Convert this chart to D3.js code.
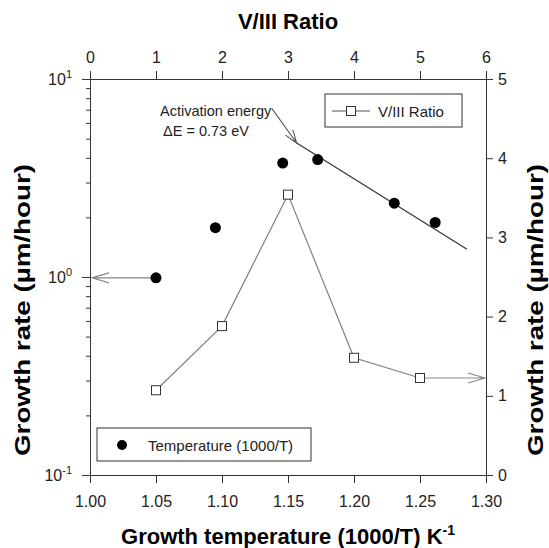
<!DOCTYPE html>
<html>
<head>
<meta charset="utf-8">
<script src="https://d3js.org/d3.v7.min.js"></script>
<style>
  body { margin: 0; background: #fff; }
  text { font-family: "Liberation Sans", Arial, sans-serif; }
</style>
</head>
<body>
<div id="chart"></div>
<script>
// growth temperature (1000/T) vs growth rate, left log axis
var tempX = [1.05, 1.095, 1.146, 1.1725, 1.2305, 1.2615];
var tempRate = [0.99, 1.775, 3.76, 3.92, 2.36, 1.885];

// V/III ratio (top axis) vs growth rate (right axis)
var ratioX = [1, 2, 3, 4, 5];
var ratioRate = [1.07, 1.88, 3.54, 1.48, 1.225];

// Arrhenius fit line end points
var fitX = [1.1566, 1.2856];
var fitRate = [4.75, 1.38];

// tick labels
var bottomTicks = [1.00, 1.05, 1.10, 1.15, 1.20, 1.25, 1.30];
var topTicks = [0, 1, 2, 3, 4, 5, 6];
var rightTicks = [0, 1, 2, 3, 4, 5];
var logMajor = [0.1, 1, 10];
var logExp = ["-1", "0", "1"];

function growth_chart(){

// set the dimensions and margins of the graph
var margin = {top: 79, right: 63, bottom: 73, left: 90},
    width = 396,
    height = 396;

var svg = d3.select("#chart")
  .append("svg")
    .attr("width", 549)
    .attr("height", 548)
  .append("g")
    .attr("transform", "translate(" + margin.left + "," + margin.top + ")");

var x = d3.scaleLinear().domain([1.0, 1.3]).range([0, width]);
var xTop = d3.scaleLinear().domain([0, 6]).range([0, width]);
var y = d3.scaleLog().domain([0.1, 10]).range([height, 0]);
var yRight = d3.scaleLinear().domain([0, 5]).range([height, 0]);

var axisColor = "#333";

// bottom axis
svg.append("g")
  .attr("transform", "translate(0," + height + ")")
  .call(d3.axisBottom(x).tickValues(bottomTicks).tickFormat(d3.format(".2f"))
    .tickSize(8).tickSizeOuter(0).tickPadding(13));

// top axis
svg.append("g")
  .call(d3.axisTop(xTop).tickValues(topTicks).tickFormat(d3.format("d"))
    .tickSize(8).tickSizeOuter(0).tickPadding(8));

// right axis
svg.append("g")
  .attr("transform", "translate(" + width + ",0)")
  .call(d3.axisRight(yRight).tickValues(rightTicks).tickFormat(d3.format("d"))
    .tickSize(7).tickSizeOuter(0).tickPadding(5));

// left log axis, minor ticks first
var minor = [];
[0.1, 1].forEach(function(d){ for (var k = 2; k < 10; k++) minor.push(d * k); });
svg.append("g")
  .call(d3.axisLeft(y).tickValues(minor).tickFormat("").tickSize(4).tickSizeOuter(0));
svg.append("g")
  .call(d3.axisLeft(y).tickValues(logMajor).tickFormat("").tickSize(8).tickSizeOuter(0));

svg.selectAll(".domain, .tick line").attr("stroke", axisColor);
svg.selectAll(".tick text")
  .style("font-size", "16px")
  .style("font-family", "'Liberation Sans', Arial, sans-serif")
  .attr("fill", "#222");

// 10^n labels
var logLab = svg.append("g").selectAll("text")
  .data(logMajor)
  .enter().append("text")
    .attr("x", -18)
    .attr("y", function(d){ return y(d) + 6; })
    .attr("text-anchor", "end")
    .style("font-size", "16px")
    .attr("fill", "#222");
logLab.append("tspan").text("10");
logLab.append("tspan")
  .attr("dy", -7)
  .style("font-size", "11px")
  .text(function(d, i){ return logExp[i]; });

// axis titles
svg.append("text")
  .attr("x", width / 2)
  .attr("y", 29 - margin.top)
  .attr("text-anchor", "middle")
  .style("font-size", "22px")
  .style("font-weight", "bold")
  .text("V/III Ratio");

var bt = svg.append("text")
  .attr("x", width / 2)
  .attr("y", 544 - margin.top)
  .attr("text-anchor", "middle")
  .style("font-size", "22px")
  .style("font-weight", "bold");
bt.append("tspan").text("Growth temperature (1000/T) K");
bt.append("tspan").attr("dy", -9).style("font-size", "14px").text("-1");

svg.append("text")
  .attr("transform", "translate(" + (30 - margin.left) + "," + (310 - margin.top) + ")rotate(-90)")
  .attr("text-anchor", "middle")
  .style("font-size", "22px")
  .style("font-weight", "bold")
  .attr("textLength", 292)
  .attr("lengthAdjust", "spacingAndGlyphs")
  .text("Growth rate (\u00b5m/hour)");

svg.append("text")
  .attr("transform", "translate(" + (543 - margin.left) + "," + (310 - margin.top) + ")rotate(-90)")
  .attr("text-anchor", "middle")
  .style("font-size", "22px")
  .style("font-weight", "bold")
  .attr("textLength", 292)
  .attr("lengthAdjust", "spacingAndGlyphs")
  .text("Growth rate (\u00b5m/hour)");

// open arrow helper
function arrow(x1, y1, x2, y2, len, half, color){
  var a = Math.atan2(y2 - y1, x2 - x1);
  var bx = x2 - len * Math.cos(a), by = y2 - len * Math.sin(a);
  var nx = -Math.sin(a) * half, ny = Math.cos(a) * half;
  svg.append("path")
    .attr("d", "M" + x1 + "," + y1 + "L" + x2 + "," + y2 +
               "M" + (bx + nx) + "," + (by + ny) + "L" + x2 + "," + y2 + "L" + (bx - nx) + "," + (by - ny))
    .attr("fill", "none")
    .attr("stroke", color)
    .attr("stroke-width", 1.1);
}

// arrows pointing at the axes
arrow(x(tempX[0]), y(tempRate[0]), x(1.0) + 2, y(tempRate[0]), 17, 5, "#888");
arrow(xTop(ratioX[4]), yRight(ratioRate[4]), xTop(6) - 1, yRight(ratioRate[4]), 17, 5, "#888");

// fit line
svg.append("path")
  .datum(d3.range(fitX.length))
  .attr("d", d3.line().x(function(i){ return x(fitX[i]); }).y(function(i){ return y(fitRate[i]); }))
  .attr("fill", "none")
  .attr("stroke", "#333")
  .attr("stroke-width", 1.2);

// activation energy annotation
arrow(x(1.1377), y(7.11), x(fitX[0]), y(fitRate[0]), 13, 4.5, "#555");
svg.append("text")
  .attr("x", 160 - margin.left)
  .attr("y", 116 - margin.top)
  .style("font-size", "14.5px")
  .attr("fill", "#222")
  .text("Activation energy");
svg.append("text")
  .attr("x", 163 - margin.left)
  .attr("y", 136 - margin.top)
  .style("font-size", "14.5px")
  .attr("fill", "#222")
  .text("\u0394E = 0.73 eV");

// V/III line + squares
svg.append("path")
  .datum(ratioX.map(function(d, i){ return [d, ratioRate[i]]; }))
  .attr("d", d3.line().x(function(d){ return xTop(d[0]); }).y(function(d){ return yRight(d[1]); }))
  .attr("fill", "none")
  .attr("stroke", "#808080")
  .attr("stroke-width", 1.2);
svg.append("g").selectAll("rect")
  .data(ratioX)
  .enter().append("rect")
    .attr("x", function(d){ return xTop(d) - 4.5; })
    .attr("y", function(d, i){ return yRight(ratioRate[i]) - 4.5; })
    .attr("width", 9)
    .attr("height", 9)
    .attr("fill", "#fff")
    .attr("stroke", "#333");

// temperature dots
svg.append("g").selectAll("circle")
  .data(tempX)
  .enter().append("circle")
    .attr("cx", function(d){ return x(d); })
    .attr("cy", function(d, i){ return y(tempRate[i]); })
    .attr("r", 5.5)
    .attr("fill", "#000");

// legends
var lg1 = svg.append("g").attr("transform", "translate(" + (325 - margin.left) + "," + (94 - margin.top) + ")");
lg1.append("rect").attr("width", 137).attr("height", 33).attr("fill", "#fff").attr("stroke", axisColor);
lg1.append("line").attr("x1", 7).attr("x2", 45).attr("y1", 17).attr("y2", 17).attr("stroke", "#555");
lg1.append("rect").attr("x", 21.5).attr("y", 12.5).attr("width", 9).attr("height", 9).attr("fill", "#fff").attr("stroke", "#333");
lg1.append("text").attr("x", 53).attr("y", 22.5).style("font-size", "15px").attr("fill", "#222").text("V/III Ratio");

var lg2 = svg.append("g").attr("transform", "translate(" + (97 - margin.left) + "," + (428 - margin.top) + ")");
lg2.append("rect").attr("width", 214).attr("height", 33).attr("fill", "#fff").attr("stroke", axisColor);
lg2.append("circle").attr("cx", 25).attr("cy", 17).attr("r", 5).attr("fill", "#000");
lg2.append("text").attr("x", 51).attr("y", 22.5).style("font-size", "15px").attr("fill", "#222").text("Temperature (1000/T)");

}

growth_chart();
</script>
</body>
</html>
